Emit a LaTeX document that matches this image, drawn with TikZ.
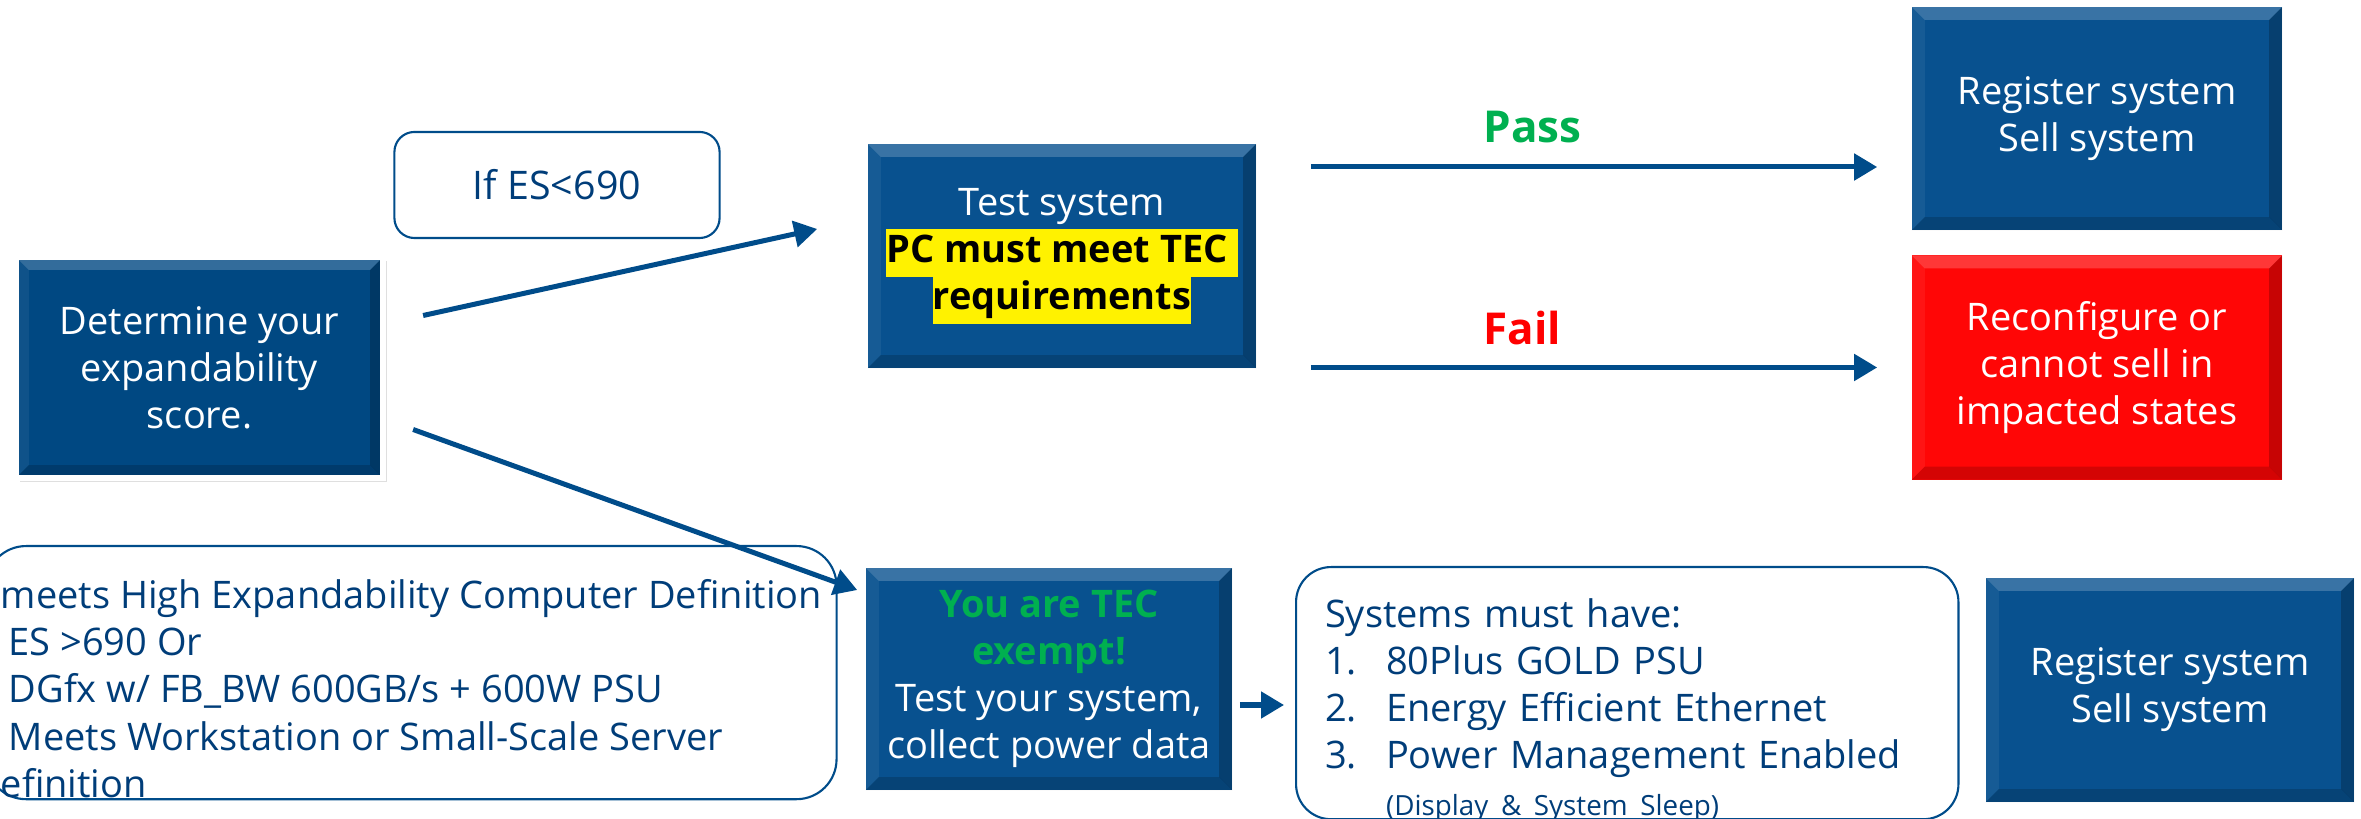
\documentclass[tikz,border=0pt]{standalone}
\usepackage{fontspec}
\setmainfont{Open Sans}
\usepackage{tikz}
\usetikzlibrary{shapes, arrows.meta, positioning, calc, shadows}

\definecolor{detblue}{RGB}{0,72,130}
\definecolor{tecblue}{RGB}{8,81,143}
\definecolor{linkblue}{RGB}{0,76,138}
\definecolor{notetext}{RGB}{0,61,121}
\definecolor{passgreen}{RGB}{0,176,80}
\definecolor{failred}{RGB}{255,0,0}
\definecolor{boxred}{RGB}{255,6,6}

\setlength{\fboxsep}{0pt}
\newcommand{\hlbox}[1]{\colorbox{yellow}{\strut\color{black}\bfseries #1}}
\newcommand{\boxfont}{\fontsize{10.8}{13.4}\selectfont}
\newcommand{\notefont}{\fontsize{7.9}{9}\selectfont}

\tikzset{
    bevel/.style={path picture={
        \fill[white, opacity=.2] (path picture bounding box.north west) -- (path picture bounding box.north east)
            -- ([xshift=-.13cm, yshift=-.13cm]path picture bounding box.north east)
            -- ([xshift=.13cm, yshift=-.13cm]path picture bounding box.north west) -- cycle;
        \fill[black, opacity=.17] (path picture bounding box.south west) -- (path picture bounding box.south east)
            -- ([xshift=-.13cm, yshift=.13cm]path picture bounding box.south east)
            -- ([xshift=.13cm, yshift=.13cm]path picture bounding box.south west) -- cycle;
        \fill[black, opacity=.22] (path picture bounding box.north east) -- (path picture bounding box.south east)
            -- ([xshift=-.13cm, yshift=.13cm]path picture bounding box.south east)
            -- ([xshift=-.13cm, yshift=-.13cm]path picture bounding box.north east) -- cycle;
        \fill[white, opacity=.06] (path picture bounding box.north west) -- (path picture bounding box.south west)
            -- ([xshift=.13cm, yshift=.13cm]path picture bounding box.south west)
            -- ([xshift=.13cm, yshift=-.13cm]path picture bounding box.north west) -- cycle;
    }}
}

\begin{document}
\begin{tikzpicture}[
        x=0.01cm, y=-0.01cm,
        flowbox/.style={fill=tecblue, bevel, minimum width=3.7cm, minimum height=2.23cm, align=center, text=white, font=\boxfont},
        detbox/.style={fill=detblue, draw=white, line width=.06cm, bevel, drop shadow={opacity=.25, shadow xshift=.04cm, shadow yshift=-.04cm},
            minimum width=3.67cm, minimum height=2.21cm, align=center, text=white, font=\boxfont},
        notebox/.style={draw=linkblue, line width=.6pt, rounded corners=.4cm, text=notetext, font=\boxfont},
        lbl/.style={font=\fontsize{12.5}{14}\selectfont\bfseries, anchor=base west, inner sep=0pt},
        arrow/.style={-{Triangle[length=.23cm, width=.26cm]}, line width=.05cm, draw=linkblue}
    ]
    \useasboundingbox (0,0) rectangle (2361,819);
    \clip (0,0) rectangle (2361,819);

    % Start
    \node[detbox] (det) at (199.5,367.5) {Determine your\\expandability\\score.};

    % Low score path
    \node[notebox, rounded corners=.2cm, minimum width=3.25cm, minimum height=1.06cm, font=\fontsize{11.2}{13.4}\selectfont] (ifes) at (557,185) {If ES<690};
    \node[flowbox, minimum width=3.88cm, minimum height=2.24cm] (test) at (1062,256)
        {Test system\\\hlbox{PC must meet TEC\hspace{.1cm}}\\\hlbox{requirements}};
    \node[flowbox] (reg) at (2097,118.5) {Register system\\Sell system};
    \node[flowbox, fill=boxred, minimum height=2.24cm] (recon) at (2097,367.5) {Reconfigure or\\cannot sell in\\impacted states};

    % Pass / Fail
    \coordinate (passy) at (0,167);
    \node[lbl, text=passgreen] (pass) at (1483,143) {Pass};
    \node[lbl, text=failred] (fail) at (1483,345) {Fail};
    \draw[arrow, shorten <=.54cm, shorten >=.34cm] (test.east |- passy) -- (reg.west |- passy);
    \draw[arrow, shorten <=.54cm, shorten >=.34cm] (test.east |- recon.west) -- (recon.west);

    % High expandability path
    \node[notebox, anchor=north west, align=left, inner xsep=.1cm, inner ysep=0pt, minimum width=8.5cm,
          text height=2.51cm, text depth=.02cm] (hec) at (-15,545)
        {meets High Expandability Computer Definition\\
         \hspace*{.08cm}ES >690 Or\\
         \hspace*{.08cm}DGfx w/ FB\_BW 600GB/s + 600W PSU\\
         \hspace*{.08cm}Meets Workstation or Small-Scale Server\\
         efinition};
    \node[flowbox, minimum width=3.66cm, minimum height=2.22cm] (exempt) at (1049,679)
        {\textcolor{passgreen}{\bfseries You are TEC}\\\textcolor{passgreen}{\bfseries exempt!}\\Test your system,\\collect power data};
    \node[notebox, anchor=north west, align=left, text width=6.04cm, inner xsep=.29cm, inner ysep=0pt,
          text height=.6cm, text depth=1.92cm, rounded corners=.35cm] (req) at (1295,566)
        {Systems must have:\\
         \makebox[.61cm][l]{1.}80Plus GOLD PSU\\
         \makebox[.61cm][l]{2.}Energy Efficient Ethernet\\
         \makebox[.61cm][l]{3.}Power Management Enabled\\
         \hspace*{.61cm}{\notefont (Display \& System Sleep)}};
    \node[flowbox, minimum width=3.68cm, minimum height=2.24cm] (regb) at (2170,690) {Register system\\Sell system};

    % Arrows from the score
    \draw[arrow] ([shift={(37,-52)}]det.east) -- ([shift={(-50,-27)}]test.west);
    \draw[arrow] ([shift={(27,62)}]det.east) -- ([shift={(-8,-89)}]exempt.west);
    \coordinate (smally) at (0,705);
    \draw[arrow, shorten <=.07cm, shorten >=.11cm] (exempt.east |- smally) -- (req.west |- smally);

\end{tikzpicture}
\end{document}
